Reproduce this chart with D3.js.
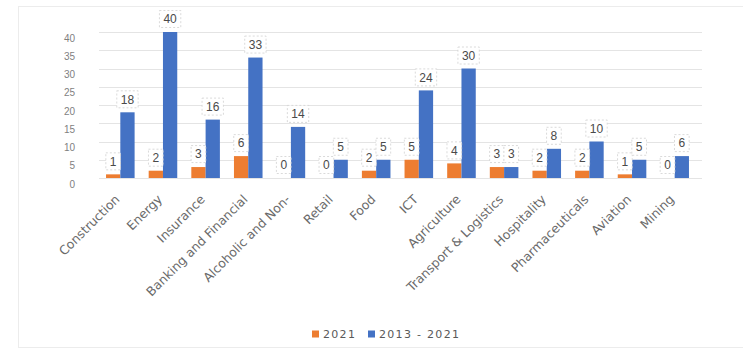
<!DOCTYPE html>
<html>
<head>
<meta charset="utf-8">
<script src="https://cdn.jsdelivr.net/npm/d3@7"></script>
<style>
  html, body { margin: 0; padding: 0; background: #fff; }
  svg { display: block; font-family: "Liberation Sans", Arial, sans-serif; }
</style>
</head>
<body>
<svg id="chart" width="743" height="356"></svg>
<script>
// Sectors and counts per period
const categories = ["Construction", "Energy", "Insurance", "Banking and Financial",
  "Alcoholic and Non-", "Retail", "Food", "ICT", "Agriculture",
  "Transport & Logistics", "Hospitality", "Pharmaceuticals", "Aviation", "Mining"];
const seriesNames = ["2021", "2013 - 2021"];
const values2021 = [1, 2, 3, 6, 0, 0, 2, 5, 4, 3, 2, 2, 1, 0];
const values2013to2021 = [18, 40, 16, 33, 14, 5, 5, 24, 30, 3, 8, 10, 5, 6];
const yTicks = [0, 5, 10, 15, 20, 25, 30, 35, 40];
const colors = ["#ED7D31", "#4472C4"];

const series = [values2021, values2013to2021];
const svg = d3.select("#chart");

// outer chart frame
svg.append("rect")
  .attr("x", 18.5).attr("y", 6.5).attr("width", 760).attr("height", 341)
  .attr("fill", "#fff").attr("stroke", "#ececec");

const x0 = d3.scaleBand().domain(categories).range([99, 696])
  .paddingInner(0.33).paddingOuter(0.165);
const x1 = d3.scaleBand().domain(seriesNames).range([0, x0.bandwidth()]);
const y = d3.scaleLinear().domain([0, 40]).range([178, 32]);

// gridlines
svg.append("g").selectAll("line").data(yTicks).join("line")
  .attr("x1", 99).attr("x2", 702)
  .attr("y1", d => Math.round(y(d)) + 0.5).attr("y2", d => Math.round(y(d)) + 0.5)
  .attr("stroke", "#e4e4e4").attr("stroke-width", 1);

// y tick labels
const yAxis = d3.axisLeft(y).tickValues(yTicks).tickSize(0).tickPadding(0);
const ya = svg.append("g").attr("transform", "translate(75,6)").call(yAxis);
ya.select(".domain").remove();
ya.selectAll("text").attr("fill", "#7f7f7f").attr("font-size", 10);

// bars
const groups = svg.append("g").selectAll("g").data(categories).join("g")
  .attr("transform", d => `translate(${x0(d)},0)`);

groups.selectAll("rect").data((d, i) => series.map((s, k) => ({ k, v: s[i] })))
  .join("rect")
  .attr("x", d => x1(seriesNames[d.k]))
  .attr("y", d => y(d.v))
  .attr("width", x1.bandwidth())
  .attr("height", d => y(0) - y(d.v))
  .attr("fill", d => colors[d.k]);

// data labels in boxed callouts
const lab = groups.selectAll("g.lbl").data((d, i) => series.map((s, k) => ({ k, v: s[i] })))
  .join("g").attr("class", "lbl")
  .attr("transform", d => `translate(${x1(seriesNames[d.k]) + x1.bandwidth() / 2},${y(d.v) - 13})`);
lab.append("rect").attr("class", "box");
lab.append("text")
  .attr("text-anchor", "middle").attr("dy", "0.36em")
  .attr("font-size", 12).attr("fill", "#4a4a4a")
  .text(d => d.v);
lab.each(function () {
  const t = d3.select(this).select("text").node();
  const w = t.getComputedTextLength() + 8;
  d3.select(this).select("rect.box")
    .attr("x", -w / 2).attr("y", -8.5).attr("width", w).attr("height", 17)
    .attr("fill", "#fff").attr("stroke", "#d0d0d0").attr("stroke-width", 0.8)
    .attr("stroke-dasharray", "2,2");
});

// category labels, rotated
svg.append("g").selectAll("text").data(categories).join("text")
  .attr("transform", d => `translate(${x0(d) + x0.bandwidth() / 2 - 3},197) rotate(-45)`)
  .attr("text-anchor", "end").attr("dy", "0.35em")
  .attr("font-family", "'DejaVu Sans', sans-serif")
  .attr("font-size", 12.5).attr("fill", "#6a6a6a")
  .text(d => d);

// legend
const legend = svg.append("g").attr("transform", "translate(312,334)");
const li = legend.selectAll("g").data(seriesNames).join("g")
  .attr("transform", (d, i) => `translate(${i === 0 ? 0 : 56},0)`);
li.append("rect").attr("x", 0).attr("y", -3.5).attr("width", 7).attr("height", 7)
  .attr("fill", (d, i) => colors[i]);
li.append("text").attr("x", 11).attr("dy", "0.35em")
  .attr("font-family", "'DejaVu Sans', sans-serif")
  .attr("font-size", 11).attr("letter-spacing", 1.3)
  .attr("fill", "#595959").text(d => d);
</script>
</body>
</html>
